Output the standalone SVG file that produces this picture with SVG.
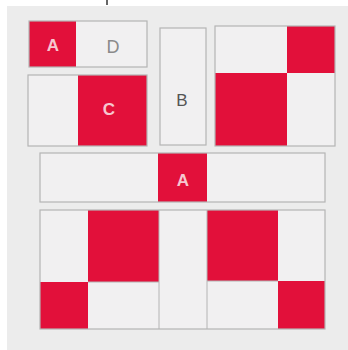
<svg xmlns="http://www.w3.org/2000/svg" width="348" height="350" viewBox="0 0 348 350">
<style>
.bg{fill:#ececec}
.red{fill:#e2103a}
.lt{fill:#f1f0f1}
.frame{fill:none;stroke:#b4b4b4;stroke-width:1.2}
.div{stroke:#b4b4b4;stroke-width:1}
.lw{font-family:"Liberation Sans",Arial,sans-serif;font-weight:bold;font-size:17px;fill:#f6c7cf;text-anchor:middle}
.lg{font-family:"Liberation Sans",Arial,sans-serif;font-size:18px;fill:#8a8a8a;text-anchor:middle}
.lb{font-family:"Liberation Sans",Arial,sans-serif;font-size:17px;fill:#555;text-anchor:middle}
</style>
<rect width="348" height="350" fill="#ffffff"/>
<rect class="bg" x="7" y="6" width="341" height="344"/>
<line x1="107" y1="0" x2="107" y2="5" stroke="#333" stroke-width="1.5"/>

<g id="node-AD">
<rect class="lt" x="76" y="21" width="71" height="46"/>
<rect class="red" x="29" y="21" width="47" height="46"/>
<rect class="frame" x="29" y="21" width="118" height="46"/>
<text class="lw" x="53" y="51">A</text>
<text class="lg" x="113" y="53">D</text>
</g>

<g id="node-C">
<rect class="lt" x="28" y="75" width="50" height="71"/>
<rect class="red" x="78" y="75" width="69" height="71"/>
<rect class="frame" x="28" y="75" width="119" height="71"/>
<text class="lw" x="109" y="115">C</text>
</g>

<g id="node-B">
<rect class="lt" x="160" y="28" width="46" height="117"/>
<rect class="frame" x="160" y="28" width="46" height="117"/>
<text class="lb" x="182" y="106">B</text>
</g>

<g id="node-topright">
<rect class="lt" x="215" y="26" width="120" height="120"/>
<rect class="red" x="287" y="26" width="48" height="47"/>
<rect class="red" x="215" y="73" width="72" height="73"/>
<rect class="frame" x="215" y="26" width="120" height="120"/>
</g>

<g id="node-A-bar">
<rect class="lt" x="40" y="153" width="285" height="49"/>
<rect class="red" x="158" y="153" width="49" height="49"/>
<rect class="frame" x="40" y="153" width="285" height="49"/>
<text class="lw" x="183" y="186">A</text>
</g>

<g id="node-bottom">
<rect class="lt" x="40" y="210" width="285" height="119"/>
<rect class="red" x="88" y="210" width="71" height="72"/>
<rect class="red" x="40" y="282" width="48" height="47"/>
<rect class="red" x="207" y="210" width="71" height="71"/>
<rect class="red" x="278" y="281" width="47" height="48"/>
<line class="div" x1="159" y1="210" x2="159" y2="329"/>
<line class="div" x1="207" y1="210" x2="207" y2="329"/>
<line class="div" x1="88" y1="282" x2="159" y2="282"/>
<line class="div" x1="207" y1="281" x2="278" y2="281"/>
<rect class="frame" x="40" y="210" width="285" height="119"/>
</g>

<g id="connectors"></g>
</svg>
